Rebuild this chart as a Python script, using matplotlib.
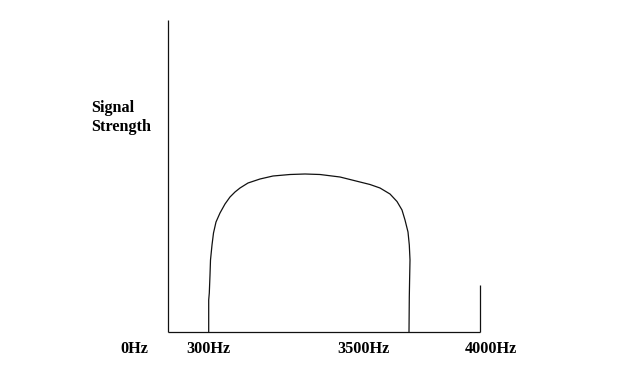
import matplotlib
matplotlib.use("Agg")
import matplotlib.pyplot as plt

# Curve shape (x: position along frequency axis, y: signal strength)
curve_x = [40.7, 40.7, 41.3, 42.0, 42.5, 44.0, 45.5, 48.0, 52.0, 57.0, 62.0, 67.0, 72.0,
           80.0, 92.0, 105.0, 122.0, 137.0, 152.0, 172.0, 192.0, 202.0, 212.0, 222.0,
           229.0, 234.0, 237.0, 240.0, 241.3, 242.0, 241.6, 241.3, 241.0]
curve_y = [0, 32, 39, 57, 72, 87, 99, 110, 119, 128, 135, 140, 144,
           149, 153, 156, 157.5, 158, 157.5, 155, 150, 147.5, 144, 138,
           130.5, 122, 112, 100, 87, 72, 52, 35, 0]

axis_top = 312          # top of the vertical axis
axis_end = 312          # right end of baseline
end_tick = 47           # height of tick at right end

tick_labels = ["0Hz", "300Hz", "3500Hz", "4000Hz"]
tick_label_pos = [-48, 18, 169, 297]
ylabel_lines = ["Signal", "Strength"]

fig = plt.figure(figsize=(6.27, 3.88), dpi=100)
ax = fig.add_axes([0, 0, 1, 1])
ax.set_xlim(-168, 459)
ax.set_ylim(-56, 332)
ax.axis("off")

lc = "#111111"
lw = 0.9
ax.plot([0, 0], [0, axis_top], color=lc, lw=lw, solid_capstyle="butt")
ax.plot([0, axis_end], [0, 0], color=lc, lw=lw, solid_capstyle="butt")
ax.plot([axis_end, axis_end], [0, end_tick], color=lc, lw=lw, solid_capstyle="butt")
ax.plot(curve_x, curve_y, color=lc, lw=lw)

font = dict(family="Liberation Serif", fontsize=11.7, fontweight="bold", color="black")
for lab, pos in zip(tick_labels, tick_label_pos):
    ax.text(pos, -21.3, lab, ha="left", va="baseline", **font)

ax.text(-77, 220.3, ylabel_lines[0], ha="left", va="baseline", **font)
ax.text(-77, 201.3, ylabel_lines[1], ha="left", va="baseline", **font)

fig.savefig("out.png", dpi=100, facecolor="white")
